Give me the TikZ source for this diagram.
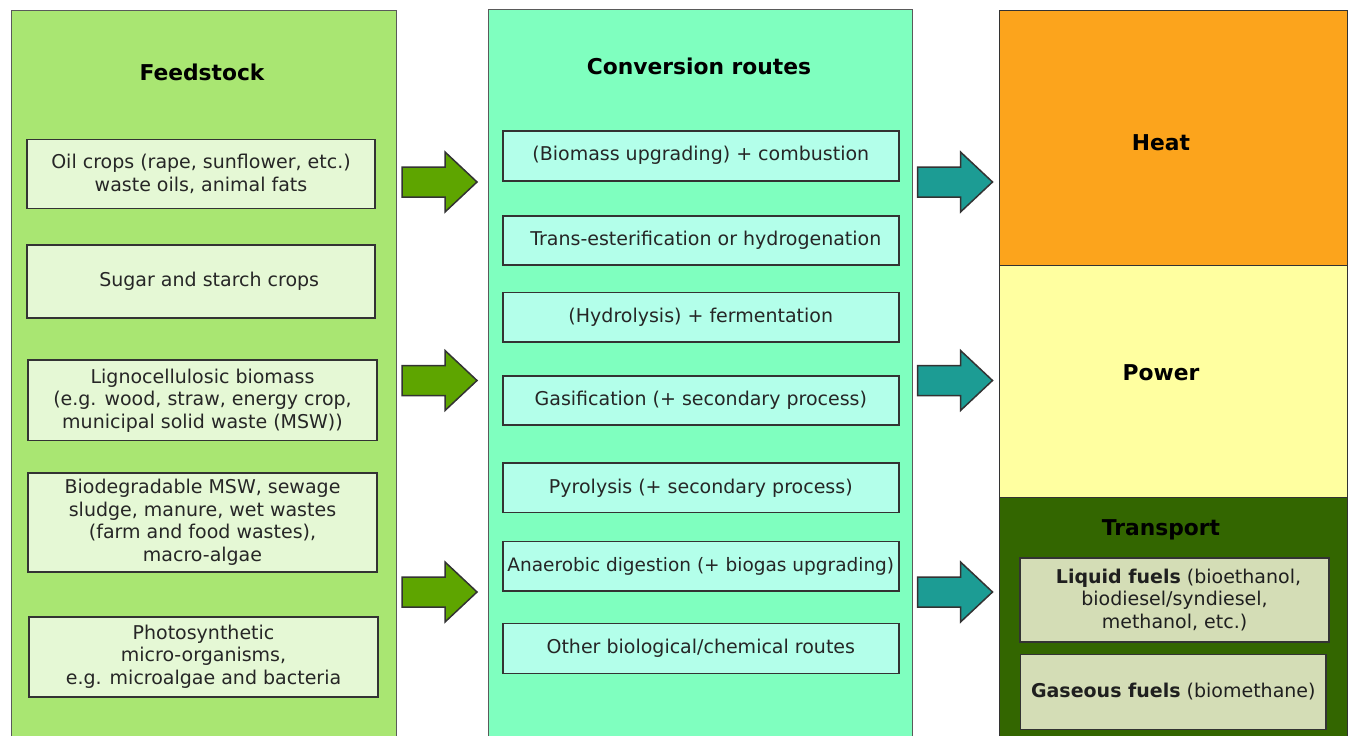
\documentclass[tikz,border=0pt]{standalone}
\usepackage{fontspec}
\setmainfont{DejaVu Sans}
\definecolor{feedfill}{HTML}{A9E672}
\definecolor{feedbox}{HTML}{E5F8D5}
\definecolor{convfill}{HTML}{7FFFBF}
\definecolor{convbox}{HTML}{B3FFEA}
\definecolor{heatfill}{HTML}{FCA41C}
\definecolor{powerfill}{HTML}{FFFFA0}
\definecolor{transfill}{HTML}{336600}
\definecolor{transbox}{HTML}{D4DDB6}
\definecolor{arrgreen}{HTML}{5EA500}
\definecolor{arrteal}{HTML}{1C9C94}
\definecolor{colline}{HTML}{5A5A5A}
\definecolor{boxline}{HTML}{333333}
\definecolor{txt}{HTML}{262626}
\newcommand\bodyfont{\fontsize{19pt}{22.5pt}\selectfont}
\newcommand\headfont{\fontsize{21.8pt}{25pt}\selectfont\bfseries}
\tikzset{
  column/.style={draw=colline, line width=1.4pt, inner sep=0pt, anchor=north west},
  panel/.style={draw=boxline, line width=1.4pt, inner sep=0pt, anchor=north west},
  item/.style={draw=boxline, line width=1.6pt, align=center, text=txt,
    font=\bodyfont, inner sep=0pt},
  feeditem/.style={item, fill=feedbox},
  convitem/.style={item, fill=convbox, minimum width=396pt, minimum height=49.5pt},
  fuelitem/.style={item, fill=transbox, text=black!88},
  heading/.style={font=\headfont, text=black},
  blockarrow/.pic={\path[pic actions] (0,-15) -- (43,-15) -- (43,-30) -- (75,0)
    -- (43,30) -- (43,15) -- (0,15) -- cycle;},
  greenarrow/.style={fill=arrgreen, draw=boxline, line width=1.5pt},
  tealarrow/.style={fill=arrteal, draw=boxline, line width=1.5pt}
}
\begin{document}
\begin{tikzpicture}[x=1pt,y=-1pt]
\useasboundingbox (0,0) rectangle (1349,736);
\clip (0,0) rectangle (1349,736);
\fill[white] (0,0) rectangle (1349,736);

% feedstock column
\node[column, fill=feedfill, minimum width=385pt, minimum height=760pt] (feed) at (11,10) {};
\node[heading] (feedtitle) at (202,72) {Feedstock};
\node[feeditem, minimum width=348pt, minimum height=69pt] (oil) at (201,173.8)
  {Oil crops (rape, sunflower, etc.)\\waste oils, animal fats};
\node[feeditem, minimum width=348pt, minimum height=73pt] (sugar) at (201.2,281.7)
  {\hspace*{16pt}Sugar and starch crops};
\node[feeditem, minimum width=348.5pt, minimum height=80.5pt] (ligno) at (202.5,400.4)
  {Lignocellulosic biomass\\(e.g. wood, straw, energy crop,\\municipal solid waste (MSW))};
\node[feeditem, minimum width=348.5pt, minimum height=98.5pt] (biodeg) at (202.5,522.5)
  {Biodegradable MSW, sewage\\sludge, manure, wet wastes\\(farm and food wastes),\\macro-algae};
\node[feeditem, minimum width=348.5pt, minimum height=80pt] (photo) at (203.5,656.7)
  {Photosynthetic\\micro-organisms,\\e.g. microalgae and bacteria};

% conversion column
\node[column, fill=convfill, minimum width=424pt, minimum height=760pt] (conv) at (487.5,8.5) {};
\node[heading] (convtitle) at (699,66) {Conversion routes};
\node[convitem, minimum height=50pt] (comb) at (700.8,155.7) {(Biomass upgrading) + combustion};
\node[convitem] (trans) at (700.8,240.5) {\hspace*{10pt}Trans-esterification or hydrogenation};
\node[convitem] (hydro) at (700.8,317.2) {(Hydrolysis) + fermentation};
\node[convitem] (gasif) at (700.8,400.5) {Gasification (+ secondary process)};
\node[convitem] (pyro) at (700.8,487.8) {Pyrolysis (+ secondary process)};
\node[convitem, font=\fontsize{18.5pt}{22pt}\selectfont] (anaer) at (700.8,566.3) {Anaerobic digestion (+ biogas upgrading)};
\node[convitem, minimum height=50pt] (other) at (700.8,648.3) {Other biological/chemical routes};

% end uses
\node[panel, fill=heatfill, minimum width=348pt, minimum height=254.5pt] (heat) at (998.5,10) {};
\node[panel, fill=powerfill, minimum width=348pt, minimum height=232.5pt] (power) at (998.5,264.5) {};
\node[panel, fill=transfill, minimum width=348pt, minimum height=260pt] (transport) at (998.5,497) {};
\node[heading] (heattitle) at (1161,143) {Heat};
\node[heading] (powertitle) at (1161,373) {Power};
\node[heading] (transtitle) at (1161,530) {Transport};
\node[fuelitem, minimum width=309pt, minimum height=83.5pt] (liquid) at (1174.5,600)
  {\hspace*{8pt}\textbf{Liquid fuels} (bioethanol,\\biodiesel/syndiesel,\\methanol, etc.)};
\node[fuelitem, minimum width=305.5pt, minimum height=75pt] (gas) at (1173.3,691.8)
  {\textbf{Gaseous fuels} (biomethane)};

% block arrows between the columns
\pic[greenarrow] at (402,182) {blockarrow};
\pic[greenarrow] at (402,380.5) {blockarrow};
\pic[greenarrow] at (402,592) {blockarrow};
\pic[tealarrow] at (917.5,182) {blockarrow};
\pic[tealarrow] at (917.5,380.5) {blockarrow};
\pic[tealarrow] at (917.5,592) {blockarrow};
\end{tikzpicture}
\end{document}
